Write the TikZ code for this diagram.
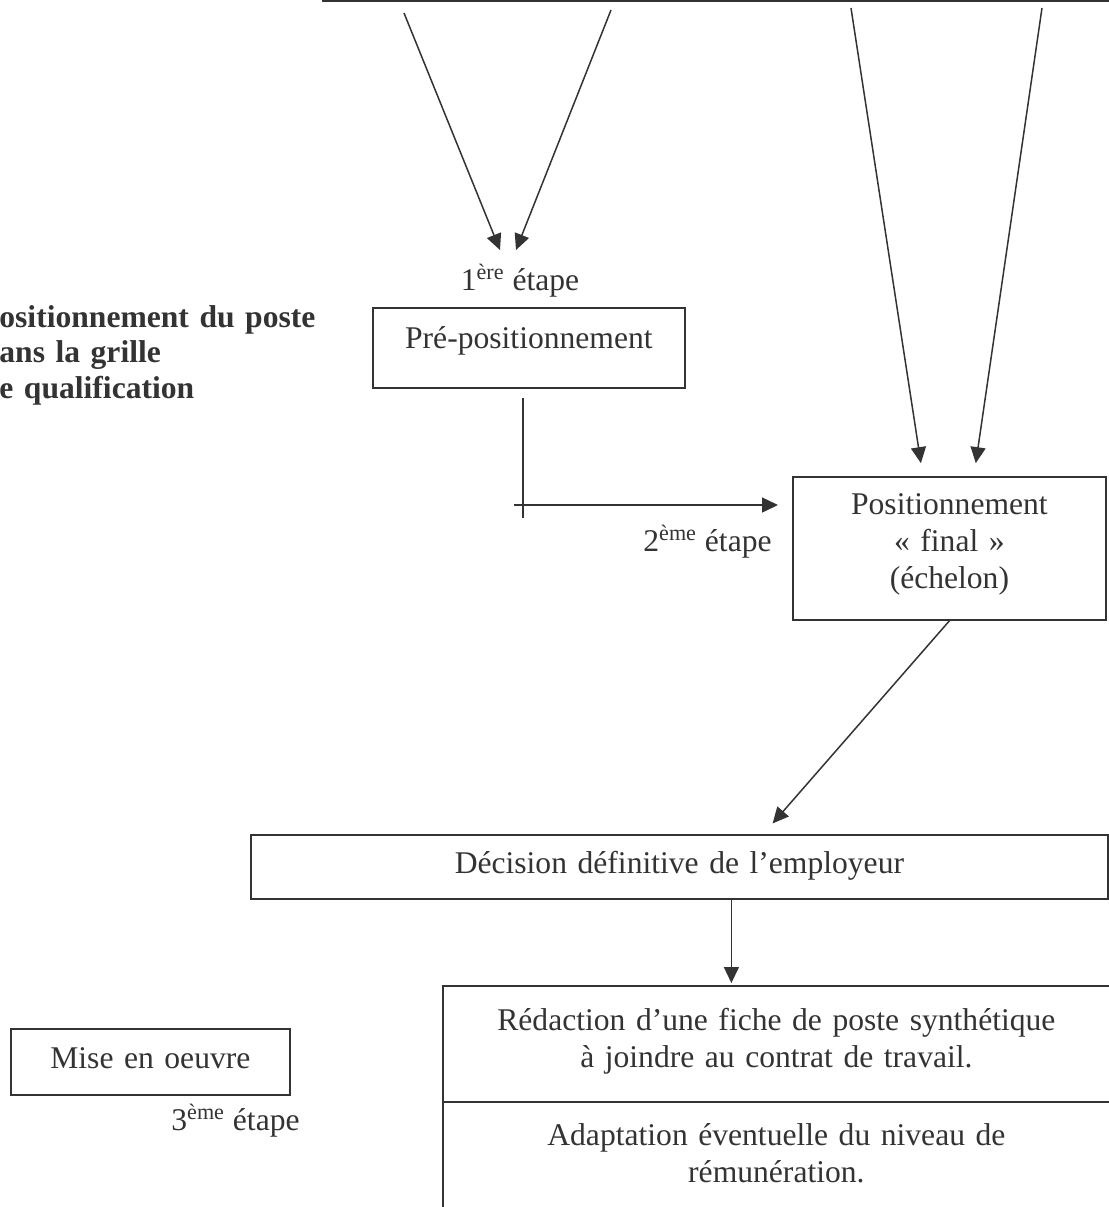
\documentclass[tikz,border=0pt]{standalone}
\usepackage{fontspec}
\setmainfont[Ligatures={TeX,CommonOff}]{Liberation Serif}
\usetikzlibrary{arrows.meta,positioning}

\begin{document}
\begin{tikzpicture}[x=0.5pt,y=-0.5pt,font=\fontsize{15.8}{18.5}\selectfont,color=black!80]
\tikzstyle{block} = [rectangle, draw=black!80, line width=0.9pt, inner xsep=0pt,
inner ysep=0pt, align=center]
\tikzstyle{cell} = [rectangle, inner xsep=0pt, inner ysep=0pt, align=center]
\tikzstyle{steptext} = [inner sep=0pt]
\tikzstyle{line} = [draw, line width=0.8pt]
\tikzstyle{arr} = [draw, line width=0.75pt, -{Triangle[length=8pt,width=7.5pt]}]
\useasboundingbox (0,0) rectangle (1109,1207);
% box above, cut off
\node [block, anchor=south west, minimum width=420pt, minimum height=60pt,
line width=1.5pt] (criteres) at (322,2) {};
% title, cut off
\node [steptext, anchor=base west, align=left, text width=170pt,
font=\fontsize{15.8}{17.75}\selectfont\bfseries] (titre) at (-1,327)
{ositionnement du poste\\ans la grille\\e qualification};
% step 1
\node [steptext, anchor=base] (etape1) at (520,290) {1\textsuperscript{ère} étape};
\node [block, anchor=north west, text width=156pt, text height=20.5pt,
text depth=19.5pt] (pre) at (372,307) {Pré-positionnement};
% step 2
\node [block, anchor=north west, text width=156.5pt, text height=19pt,
text depth=52.5pt] (final) at (792,476) {Positionnement\\«~final~»\\(échelon)};
\node [steptext, anchor=base east] (etape2) at (772,551) {2\textsuperscript{ème} étape};
\node [block, anchor=north west, text width=428.5pt, text height=19.5pt,
text depth=12.5pt] (decision) at (250,834) {Décision définitive de l’employeur};
% step 3
\node [cell, anchor=north west, text width=333pt, text height=22pt,
text depth=35.5pt] (redaction) at (443,986)
{Rédaction d’une fiche de poste synthétique\\à joindre au contrat de travail.};
\node [cell, anchor=north west, text width=333pt, text height=21.5pt,
text depth=48pt] (adaptation) at (redaction.south west)
{Adaptation éventuelle du niveau de\\rémunération.};
\node [block, anchor=north west, text width=139.5pt, text height=20pt,
text depth=13pt] (miseoeuvre) at (10,1028) {Mise en oeuvre};
\node [steptext, anchor=base east] (etape3) at (300,1130) {3\textsuperscript{ème} étape};
% connectors
\coordinate (srcA) at (404,13);
\coordinate (srcB) at (611,10);
\coordinate (srcC) at (851,8);
\coordinate (srcD) at (1042,8);
\coordinate (inA) at (500,250);
\coordinate (inB) at (516,250);
\coordinate (vtop) at (523,398);
\coordinate (vbot) at (523,518);
\coordinate (hstart) at (514,505);
\coordinate (dstart) at ([xshift=26pt]decision.south);
\draw [arr] (srcA) -- (inA);
\draw [arr] (srcB) -- (inB);
\draw [arr, shorten >=6.5pt] (srcC) -- ([xshift=-13.25pt]final.north);
\draw [arr, shorten >=6.5pt] (srcD) -- ([xshift=12.25pt]final.north);
\draw [line] (vtop) -- (vbot);
\draw [arr, shorten >=7pt] (hstart) -- (final.west |- hstart);
\draw [arr, shorten >=7pt] (final.south) -- ([xshift=42pt]decision.north);
\draw [arr, shorten >=1.5pt] (dstart) -- (dstart |- redaction.north);
% open box at the bottom
\draw [line, line width=0.9pt] (redaction.north east) -- (redaction.north west)
-- (adaptation.south west);
\draw [line, line width=0.9pt] (redaction.south west) -- (redaction.south east);
\end{tikzpicture}
\end{document}
